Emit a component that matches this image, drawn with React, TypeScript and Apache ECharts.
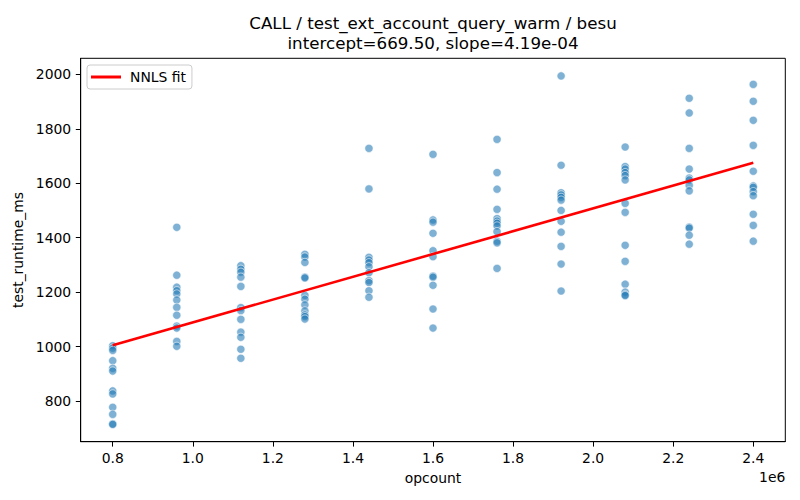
import React, { useEffect, useRef } from "react";
import * as echarts from "echarts";

const opcounts = [800000, 960000, 1120000, 1280000, 1440000, 1600000, 1760000, 1920000, 2080000, 2240000, 2400000];

const runtimesAt0800 = [1003, 994, 986, 948, 920, 910, 837, 826, 777, 751, 716, 714];
const runtimesAt0960 = [1438, 1262, 1218, 1205, 1193, 1171, 1144, 1115, 1075, 1068, 1019, 1001];
const runtimesAt1120 = [1297, 1284, 1273, 1255, 1221, 1143, 1132, 1100, 1053, 1034, 990, 957];
const runtimesAt1280 = [1339, 1329, 1309, 1255, 1252, 1188, 1174, 1153, 1131, 1116, 1110, 1101];
const runtimesAt1440 = [1728, 1579, 1328, 1318, 1308, 1293, 1271, 1242, 1235, 1205, 1181];
const runtimesAt1600 = [1706, 1465, 1457, 1416, 1352, 1330, 1259, 1255, 1225, 1138, 1068];
const runtimesAt1760 = [1761, 1639, 1578, 1504, 1470, 1461, 1453, 1443, 1422, 1387, 1381, 1287];
const runtimesAt1920 = [1994, 1666, 1565, 1557, 1548, 1538, 1500, 1460, 1420, 1368, 1303, 1204];
const runtimesAt2080 = [1733, 1661, 1652, 1639, 1628, 1612, 1526, 1493, 1372, 1313, 1229, 1200, 1190, 1187];
const runtimesAt2240 = [1912, 1858, 1728, 1652, 1619, 1612, 1592, 1572, 1439, 1435, 1409, 1376];
const runtimesAt2400 = [1963, 1901, 1831, 1739, 1644, 1590, 1585, 1569, 1554, 1486, 1445, 1387];

const runtimeColumns = [
  runtimesAt0800, runtimesAt0960, runtimesAt1120, runtimesAt1280, runtimesAt1440, runtimesAt1600,
  runtimesAt1760, runtimesAt1920, runtimesAt2080, runtimesAt2240, runtimesAt2400,
];

const fitX = [800000, 2400000];
const fitY = [1004.7, 1675.1];

const xTicks = [800000, 1000000, 1200000, 1400000, 1600000, 1800000, 2000000, 2200000, 2400000];
const yTicks = [800, 1000, 1200, 1400, 1600, 1800, 2000];

const titleLine1 = "CALL / test_ext_account_query_warm / besu";
const titleLine2 = "intercept=669.50, slope=4.19e-04";

const FONT = "DejaVu Sans";

export default function App() {
  const ref = useRef<HTMLDivElement>(null);

  useEffect(() => {
    if (!ref.current) return;
    const chart = echarts.init(ref.current, undefined, { renderer: "svg" });

    const scatterData: number[][] = [];
    opcounts.forEach((x, i) => {
      runtimeColumns[i].forEach((y) => scatterData.push([x, y]));
    });
    const fitData = fitX.map((x, i) => [x, fitY[i]]);

    const gridLeft = 80.7;
    const gridRight = 785.3;
    const gridTop = 58.3;
    const gridBottom = 441.7;
    const centerX = (gridLeft + gridRight) / 2;

    chart.setOption({
      animation: false,
      backgroundColor: "#ffffff",
      textStyle: { fontFamily: FONT },
      grid: {
        left: gridLeft,
        top: gridTop,
        right: 800 - gridRight,
        bottom: 500 - gridBottom,
        show: true,
        borderColor: "#000000",
        borderWidth: 1,
        containLabel: false,
      },
      legend: {
        data: [{ name: "NNLS fit", icon: "rect" }],
        left: 87,
        top: 65,
        orient: "horizontal",
        itemWidth: 30,
        itemHeight: 3,
        padding: [5, 6, 5, 4],
        backgroundColor: "rgba(255,255,255,0.8)",
        borderColor: "#cccccc",
        borderWidth: 1,
        borderRadius: 3,
        textStyle: { fontFamily: FONT, fontSize: 13.9, color: "#000000", padding: [0, 0, 0, 4] },
      },
      xAxis: {
        type: "value",
        min: 720000,
        max: 2480000,
        name: "opcount",
        nameLocation: "middle",
        nameGap: 29,
        nameTextStyle: { fontFamily: FONT, fontSize: 13.9, color: "#000000" },
        splitLine: { show: false },
        axisLine: { show: true, onZero: false, lineStyle: { color: "#000000", width: 1 } },
        axisTick: { show: true, inside: false, length: 4.9, customValues: xTicks, lineStyle: { color: "#000000", width: 1 } },
        axisLabel: {
          show: true,
          customValues: xTicks,
          margin: 9.5,
          fontFamily: FONT,
          fontSize: 13.9,
          color: "#000000",
          formatter: (v: number) => (v / 1e6).toFixed(1),
        },
      },
      yAxis: {
        type: "value",
        min: 650.5,
        max: 2058.8,
        name: "test_runtime_ms",
        nameLocation: "middle",
        nameGap: 50,
        nameTextStyle: { fontFamily: FONT, fontSize: 13.9, color: "#000000" },
        splitLine: { show: false },
        axisLine: { show: true, onZero: false, lineStyle: { color: "#000000", width: 1 } },
        axisTick: { show: true, inside: false, length: 4.9, customValues: yTicks, lineStyle: { color: "#000000", width: 1 } },
        axisLabel: {
          show: true,
          customValues: yTicks,
          margin: 9.5,
          fontFamily: FONT,
          fontSize: 13.9,
          color: "#000000",
          formatter: (v: number) => String(v),
        },
      },
      graphic: [
        {
          type: "text",
          x: centerX,
          y: 23.2,
          style: { text: titleLine1, fontFamily: FONT, fontSize: 16.7, fill: "#000000", align: "center", verticalAlign: "middle" },
        },
        {
          type: "text",
          x: centerX,
          y: 43.2,
          style: { text: titleLine2, fontFamily: FONT, fontSize: 16.7, fill: "#000000", align: "center", verticalAlign: "middle" },
        },
        {
          type: "text",
          x: gridRight,
          y: 477,
          style: { text: "1e6", fontFamily: FONT, fontSize: 13.9, fill: "#000000", align: "right", verticalAlign: "middle" },
        },
      ],
      series: [
        {
          name: "runtime",
          type: "scatter",
          data: scatterData,
          symbol: "circle",
          symbolSize: 8.2,
          itemStyle: { color: "rgba(31,119,180,0.72)", borderColor: "rgba(255,255,255,0.9)", borderWidth: 0.8 },
          z: 2,
        },
        {
          name: "NNLS fit",
          type: "line",
          data: fitData,
          showSymbol: false,
          symbol: "none",
          lineStyle: { color: "#ff0000", width: 2.6 },
          itemStyle: { color: "#ff0000" },
          z: 3,
        },
      ],
    });

    return () => chart.dispose();
  }, []);

  return <div ref={ref} style={{ width: 800, height: 500, position: "absolute", left: 0, top: 0 }} />;
}
